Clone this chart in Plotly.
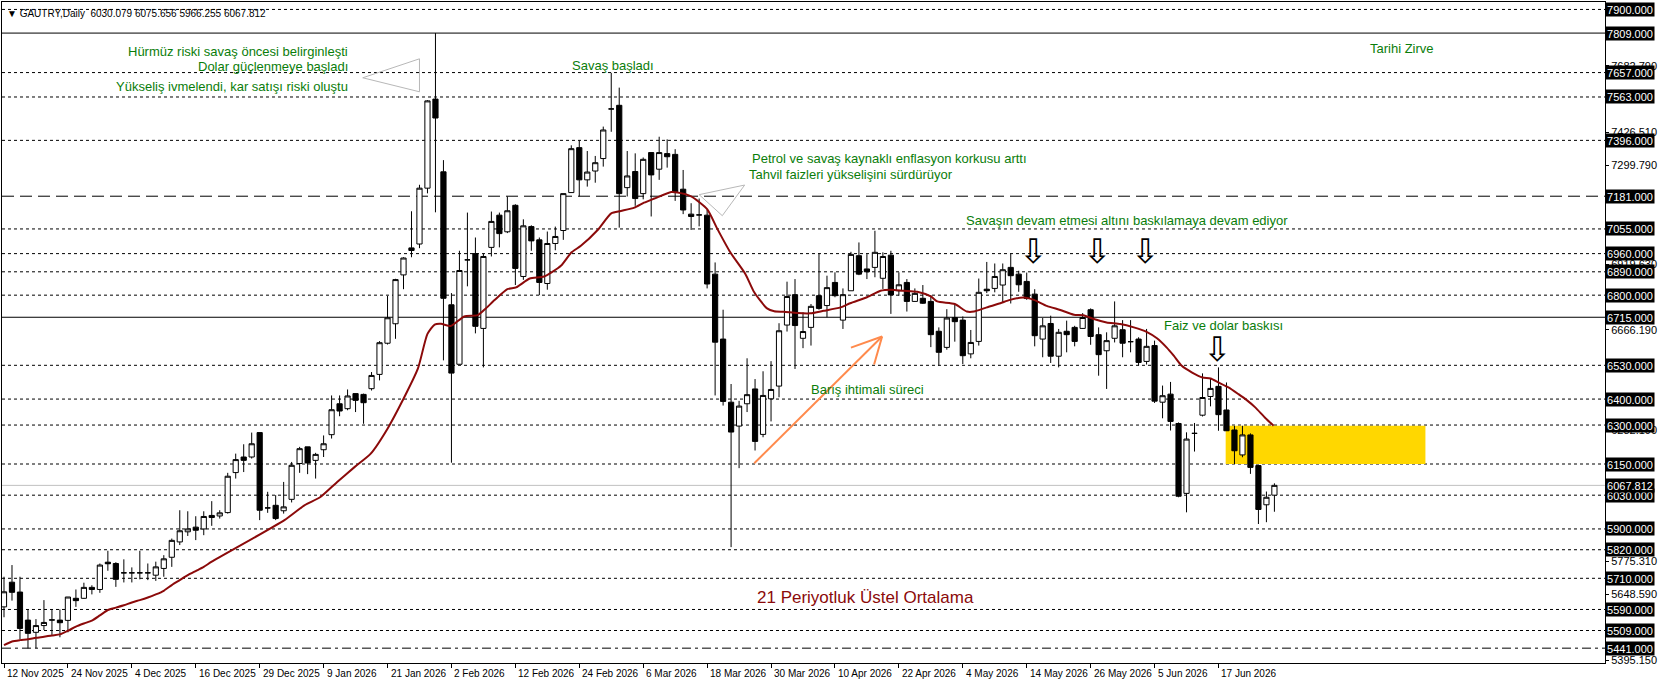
import plotly.graph_objects as go

# ---------------- data ----------------
opens = [5600, 5695, 5657, 5549, 5502, 5528, 5549, 5549, 5548, 5633,
         5633, 5675, 5667, 5772, 5767, 5731, 5731, 5731, 5731, 5722,
         5748, 5791, 5850, 5889, 5907, 5900, 5952, 5950, 5963, 6117,
         6177, 6177, 6271, 5981, 5991, 5970, 6014, 6152, 6216, 6164,
         6205, 6263, 6382, 6363, 6421, 6418, 6440, 6495, 6615, 6690,
         6878, 6982, 6997, 7212, 7555, 7275, 6763, 6534, 6936, 6960,
         6672, 6984, 7108, 7044, 7146, 6872, 7064, 7013, 6845, 6999,
         7049, 7195, 7368, 7244, 7278, 7326, 7517, 7531, 7214, 7276,
         7191, 7349, 7285, 7345, 7342, 7208, 7112, 7109, 7108, 6881,
         6631, 6388, 6296, 6382, 6439, 6264, 6401, 6450, 6685, 6802,
         6634, 6676, 6798, 6760, 6849, 6704, 6817, 6952, 6901, 6907,
         6865, 6954, 6817, 6849, 6776, 6788, 6776, 6661, 6599, 6714,
         6704, 6574, 6622, 6823, 6826, 6839, 6907, 6881, 6853, 6804,
         6631, 6691, 6565, 6661, 6676, 6672, 6744, 6648, 6586, 6634,
         6667, 6621, 6631, 6545, 6606, 6388, 6419, 6306, 6037, 6268,
         6338, 6410, 6449, 6358, 6281, 6185, 6262, 6144, 5993, 6030.079]
highs = [5716, 5761, 5716, 5588, 5553, 5626, 5590, 5590, 5638, 5667,
         5693, 5683, 5767, 5816, 5772, 5783, 5752, 5816, 5767, 5774,
         5799, 5863, 5972, 5968, 5949, 5968, 6007, 5972, 6116, 6190,
         6226, 6271, 6271, 6043, 6030, 6081, 6158, 6216, 6216, 6193,
         6260, 6414, 6414, 6437, 6421, 6421, 6504, 6623, 6797, 6863,
         6946, 7123, 7225, 7551, 7809, 7320, 6808, 6971, 7118, 7022,
         6960, 7122, 7118, 7180, 7150, 7092, 7069, 7022, 7045, 7064,
         7191, 7377, 7396, 7355, 7336, 7449, 7656, 7599, 7355, 7346,
         7330, 7349, 7410, 7400, 7362, 7282, 7154, 7172, 7129, 6926,
         6744, 6458, 6393, 6557, 6477, 6507, 6546, 6692, 6852, 6862,
         6734, 6766, 6961, 6875, 6888, 6826, 6967, 7003, 6958, 7048,
         6965, 6971, 6888, 6862, 6826, 6839, 6800, 6676, 6746, 6766,
         6718, 6666, 6864, 6928, 6922, 6922, 6960, 6894, 6887, 6823,
         6712, 6721, 6670, 6702, 6682, 6731, 6749, 6676, 6657, 6776,
         6704, 6704, 6638, 6670, 6625, 6452, 6466, 6310, 6272, 6308,
         6499, 6479, 6522, 6464, 6297, 6297, 6268, 6144, 6044, 6075.656]
lows = [5560, 5624, 5475, 5440, 5441, 5511, 5492, 5483, 5502, 5600,
        5631, 5648, 5654, 5739, 5677, 5694, 5694, 5706, 5703, 5700,
        5716, 5754, 5838, 5873, 5857, 5876, 5912, 5940, 5959, 6094,
        6119, 6171, 5934, 5962, 5934, 5959, 6002, 6116, 6111, 6094,
        6177, 6248, 6334, 6357, 6350, 6305, 6433, 6472, 6610, 6632,
        6823, 6946, 6981, 7192, 7119, 6549, 6155, 6534, 6834, 6653,
        6522, 6949, 6984, 7039, 6839, 6859, 6971, 6800, 6821, 6973,
        7013, 7195, 7180, 7218, 7233, 7295, 7429, 7060, 7180, 7144,
        7169, 7103, 7244, 7291, 7163, 7112, 7051, 7065, 6826, 6414,
        6375, 5830, 6134, 6350, 6202, 6253, 6314, 6407, 6660, 6516,
        6596, 6606, 6744, 6715, 6792, 6670, 6817, 6877, 6862, 6869,
        6824, 6728, 6798, 6737, 6775, 6766, 6600, 6529, 6590, 6621,
        6535, 6557, 6606, 6808, 6811, 6772, 6768, 6813, 6782, 6603,
        6561, 6539, 6522, 6580, 6603, 6670, 6609, 6490, 6439, 6618,
        6561, 6580, 6529, 6533, 6385, 6326, 6279, 6022, 5964, 6198,
        6333, 6372, 6278, 6278, 6150, 6176, 6112, 5919, 5926, 5966.255]
closes = [5658, 5656, 5517, 5498, 5528, 5540, 5550, 5539, 5638, 5624,
          5675, 5667, 5761, 5766, 5706, 5731, 5731, 5731, 5731, 5754,
          5785, 5856, 5893, 5900, 5895, 5948, 5944, 5962, 6103, 6167,
          6164, 6228, 5972, 5981, 5940, 5985, 6145, 6209, 6154, 6187,
          6228, 6359, 6354, 6412, 6395, 6386, 6491, 6617, 6713, 6860,
          6943, 6972, 7212, 7548, 7482, 6788, 6500, 6895, 6936, 6680,
          6949, 7084, 7037, 7125, 6903, 7067, 7009, 6849, 6999, 7026,
          7191, 7364, 7244, 7274, 7310, 7436, 7517, 7191, 7259, 7172,
          7323, 7263, 7349, 7333, 7198, 7128, 7103, 7109, 6843, 6619,
          6391, 6273, 6373, 6417, 6237, 6414, 6437, 6663, 6795, 6683,
          6660, 6757, 6749, 6829, 6798, 6802, 6957, 6881, 6890, 6965,
          6949, 6801, 6840, 6776, 6807, 6769, 6648, 6580, 6712, 6698,
          6567, 6618, 6811, 6817, 6872, 6898, 6875, 6840, 6787, 6644,
          6682, 6565, 6657, 6648, 6622, 6714, 6641, 6571, 6625, 6682,
          6615, 6621, 6541, 6603, 6392, 6413, 6314, 6026, 6246, 6268,
          6406, 6441, 6340, 6278, 6201, 6262, 6137, 5975, 6022, 6067.812]

# 21-period EMA (bar position, value)
ema_bar = [0, 1, 2, 3, 4, 5, 6, 7, 8, 9, 10, 11, 12, 13, 14, 15, 16, 17, 18, 19,
           20, 21, 22, 23, 24, 25, 26, 35.1, 37.6, 39.6, 41.7, 43.9, 45.9, 48, 50,
           51.8, 53, 53.9, 54.7, 55.9, 57.6, 59.3, 60.3, 61.4, 63, 64.1, 65.8, 67.6,
           69.7, 71, 72.2, 74.3, 76, 77.2, 78.9, 80.1, 81.4, 83.5, 84.3, 86, 88,
           89.3, 90.9, 92.8, 93.9, 95.5, 96.4, 97.6, 99.3, 100.9, 102.6, 104.7,
           105.9, 108, 109.7, 111, 112.6, 114.3, 116, 116.8, 119, 120.5, 121.4, 123,
           124.7, 125.9, 127.6, 128.9, 130.5, 132.2, 133.9, 135.1, 136.4, 138, 139.7,
           141.4, 143, 144.3, 145.5, 146.4, 147.4, 148.7, 150, 151, 152, 153.25,
           154.5, 155.5, 156.6, 157.8, 158.9]
ema_value = [5453, 5467, 5472, 5475, 5481, 5485, 5490, 5494, 5508, 5524, 5536, 5547,
             5567, 5588, 5597, 5606, 5617, 5626, 5636, 5648, 5662, 5684, 5703, 5722,
             5738, 5754, 5774, 5934, 5991, 6023, 6081, 6139, 6190, 6286, 6401, 6517,
             6651, 6687, 6690, 6681, 6718, 6723, 6749, 6781, 6823, 6830, 6864, 6872,
             6913, 6964, 6990, 7051, 7115, 7124, 7137, 7156, 7172, 7197, 7195, 7180,
             7131, 7054, 6965, 6881, 6811, 6749, 6738, 6736, 6731, 6730, 6740, 6753,
             6769, 6792, 6817, 6821, 6817, 6813, 6795, 6776, 6766, 6737, 6737, 6753,
             6769, 6782, 6791, 6782, 6759, 6743, 6725, 6723, 6708, 6695, 6689, 6676,
             6659, 6634, 6599, 6567, 6528, 6502, 6483, 6479, 6464, 6445, 6419, 6397,
             6368, 6329, 6297]

date_labels = ["12 Nov 2025", "24 Nov 2025", "4 Dec 2025", "16 Dec 2025", "29 Dec 2025",
               "9 Jan 2026", "21 Jan 2026", "2 Feb 2026", "12 Feb 2026", "24 Feb 2026",
               "6 Mar 2026", "18 Mar 2026", "30 Mar 2026", "10 Apr 2026", "22 Apr 2026",
               "4 May 2026", "14 May 2026", "26 May 2026", "5 Jun 2026", "17 Jun 2026"]
date_label_bars = [0, 8, 16, 24, 32, 40, 48, 56, 64, 72, 80, 88, 96, 104, 112, 120, 128,
                   136, 144, 152]

dotted_levels = [7900, 7657, 7563, 7396, 7055, 6960, 6890, 6800, 6530, 6400, 6300,
                 6150, 6030, 5900, 5820, 5710, 5590, 5509]
solid_levels = [7809, 6715]
dashed_levels = [7181]
dashdot_levels = [5441]
bid_price = 6067.812

axis_tick_values = [7682.79, 7426.51, 7299.79, 6919.63,
                    6666.19, 6282.19, 5775.31, 5648.59, 5395.15]

zone_bars = [152.9, 177.9]
zone_prices = [6150, 6297]

# ---------------- figure ----------------
bars = list(range(len(opens)))
FONT = "Liberation Sans, Arial, sans-serif"
GREEN = "#0a7d0a"

fig = go.Figure()
fig.add_trace(go.Candlestick(
    x=bars, open=opens, high=highs, low=lows, close=closes,
    increasing=dict(line=dict(color="black", width=1), fillcolor="white"),
    decreasing=dict(line=dict(color="black", width=1), fillcolor="black"),
    whiskerwidth=0, showlegend=False, hoverinfo="skip"))
fig.add_trace(go.Scatter(
    x=ema_bar, y=ema_value, mode="lines", showlegend=False, hoverinfo="skip",
    line=dict(color="#8b0a0a", width=2, shape="spline", smoothing=0.6)))

shapes = []
def hline(y, dash, color="black"):
    shapes.append(dict(type="line", xref="paper", x0=0, x1=1, yref="y", y0=y, y1=y,
                       line=dict(color=color, width=1, dash=dash), layer="below"))
for v in dotted_levels:
    hline(v, "3px,3px")
for v in solid_levels:
    hline(v, "solid")
for v in dashed_levels:
    hline(v, "12px,6px")
for v in dashdot_levels:
    hline(v, "9px,4px,3px,4px")
hline(bid_price, "solid", "#c0c0c0")

# yellow zone
shapes.append(dict(type="rect", xref="x", yref="y", x0=zone_bars[0], x1=zone_bars[1],
                   y0=zone_prices[0], y1=zone_prices[1], fillcolor="#ffd700",
                   line=dict(width=0), layer="below"))
# grey triangles
shapes.append(dict(type="path", xref="x", yref="y",
                   path="M 44.9 7637 L 52.0 7710 L 52.0 7583 Z",
                   line=dict(color="#b8b8b8", width=1)))
shapes.append(dict(type="path", xref="x", yref="y",
                   path="M 87.0 7187 L 92.7 7224 L 89.9 7106 Z",
                   line=dict(color="#b8b8b8", width=1)))
# orange arrow
ORANGE = "#ff8a4c"
shapes.append(dict(type="line", xref="x", yref="y", x0=93.9, y0=6153, x1=109.9, y1=6641,
                   line=dict(color=ORANGE, width=2)))
shapes.append(dict(type="line", xref="x", yref="y", x0=106.0, y0=6598, x1=109.9, y1=6641,
                   line=dict(color=ORANGE, width=2)))
shapes.append(dict(type="line", xref="x", yref="y", x0=108.9, y0=6533, x1=109.9, y1=6641,
                   line=dict(color=ORANGE, width=2)))

ann = []
def text(x, y, s, color=GREEN, size=13, anchor="left"):
    ann.append(dict(x=x, y=y, xref="x", yref="y", text=s, showarrow=False,
                    xanchor=anchor, yanchor="middle",
                    font=dict(family=FONT, size=size, color=color)))

text(43.3, 7737, "Hürmüz riski savaş öncesi belirginleşti", anchor="right")
text(43.3, 7680, "Dolar güçlenmeye başladı", anchor="right")
text(43.3, 7603, "Yükseliş ivmelendi, kar satışı riski oluştu", anchor="right")
text(70.9, 7685, "Savaş başladı")
text(93.4, 7327, "Petrol ve savaş kaynaklı enflasyon korkusu arttı")
text(93.0, 7266, "Tahvil faizleri yükselişini sürdürüyor")
text(120.1, 7087, "Savaşın devam etmesi altını baskılamaya devam ediyor")
text(144.9, 6685, "Faiz ve dolar baskısı")
text(100.75, 6437, "Barış ihtimali süreci")
text(170.75, 7750, "Tarihi Zirve")
text(94.0, 5636, "21 Periyotluk Üstel Ortalama", color="#8b0a0a", size=17)

for xb, yb in [(128.9, 6971), (136.9, 6971), (142.9, 6971), (151.9, 6591)]:
    ann.append(dict(x=xb, y=yb, xref="x", yref="y", text="⇩", showarrow=False,
                    xanchor="center", yanchor="middle",
                    font=dict(family="DejaVu Sans", size=34, color="black")))

# title
ann.append(dict(x=0, y=1, xref="paper", yref="paper", xanchor="left", yanchor="top",
                xshift=3, yshift=-4, showarrow=False,
                text="▼ GAUTRY,Daily  6030.079 6075.656 5966.255 6067.812",
                font=dict(family=FONT, size=10, color="black")))

# right-axis boxed labels
for v in dotted_levels + solid_levels + dashed_levels + dashdot_levels + [bid_price]:
    lab = f"{v:.3f}"
    ann.append(dict(x=1, y=v, xref="paper", yref="y", xanchor="left", yanchor="middle",
                    xshift=0, showarrow=False, text=lab, bgcolor="black",
                    width=48, height=13, borderpad=0,
                    font=dict(family=FONT, size=11, color="white")))

# date labels
for b, lab in zip(date_label_bars, date_labels):
    ann.append(dict(x=b, y=0, xref="x", yref="paper", xanchor="left", yanchor="top",
                    xshift=1, yshift=-3, showarrow=False, text=lab,
                    font=dict(family=FONT, size=10, color="black")))

fig.update_layout(
    width=1658, height=685,
    margin=dict(l=2, r=51, t=1, b=22),
    paper_bgcolor="white", plot_bgcolor="white",
    shapes=shapes, annotations=ann,
    boxgap=0.35, boxgroupgap=0,
    showlegend=False,
    xaxis=dict(range=[-0.25, 200.375], showgrid=False, zeroline=False,
               rangeslider=dict(visible=False),
               tickmode="array", tickvals=date_label_bars, showticklabels=False,
               ticks="outside", ticklen=4, tickcolor="black",
               showline=True, linecolor="black", linewidth=1, mirror=True),
    yaxis=dict(range=[5383.9, 7928.7], side="right", showgrid=False, zeroline=False,
               tickmode="array", tickvals=axis_tick_values,
               ticktext=[f"{v:.3f}" for v in axis_tick_values],
               ticks="outside", ticklen=3, tickcolor="black",
               tickfont=dict(family=FONT, size=11, color="black"),
               showline=True, linecolor="black", linewidth=1, mirror=True),
)

fig.write_html("out.html")
